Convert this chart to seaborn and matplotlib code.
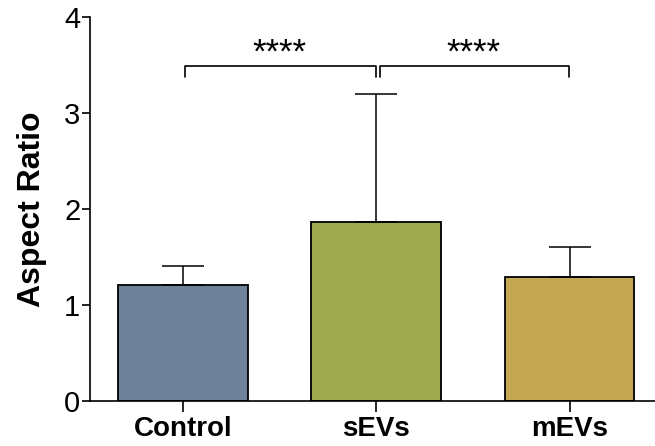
import matplotlib
matplotlib.use("Agg")
import matplotlib.pyplot as plt
import seaborn as sns
import pandas as pd

# ── Data ─────────────────────────────────────────────
groups   = ["Control", "sEVs", "mEVs"]
means    = [1.21, 1.865, 1.29]
sd_upper = [0.20, 1.335, 0.31]
colors   = ["#6E8299", "#9DAA50", "#C4A752"]

# significance brackets: (left group, right group, label)
comparisons = [(0, 1, "****"), (1, 2, "****")]

sns.set_style("ticks")
plt.rcParams["font.family"] = ["Liberation Sans", "DejaVu Sans"]
plt.rcParams["text.color"] = "black"
plt.rcParams["axes.labelcolor"] = "black"
plt.rcParams["xtick.color"] = "black"
plt.rcParams["ytick.color"] = "black"
plt.rcParams["axes.edgecolor"] = "black"

df = pd.DataFrame({"group": groups, "value": means})

fig = plt.figure(figsize=(6.55, 4.46), dpi=100)
ax = fig.add_axes([0.1374, 0.1009, 0.88, 0.861])

sns.barplot(data=df, x="group", y="value", hue="group", palette=colors,
            order=groups, width=0.67, edgecolor="black", linewidth=1.3,
            legend=False, errorbar=None, saturation=1, ax=ax)

# upward-only error bars
ax.errorbar(range(len(groups)), means, yerr=[[0] * len(groups), sd_upper],
            fmt="none", ecolor="black", elinewidth=1.1, capsize=15,
            capthick=1.1, zorder=1)

# significance brackets
bar_y, tick_drop = 3.49, 0.12
for i, (a, b, label) in enumerate(comparisons):
    x0 = a + (0.01 if i == 0 else 0.02)
    x1 = b - (0.0 if i == 0 else 0.005)
    ax.plot([x0, x0, x1, x1], [bar_y - tick_drop, bar_y, bar_y, bar_y - tick_drop],
            color="black", lw=1.2, clip_on=False)
    ax.text((a + b) / 2, bar_y + 0.03, label, ha="center", va="baseline",
            fontsize=25, color="black")

ax.set_ylim(0, 4)
ax.set_xlim(-0.48, 2.5)
ax.set_yticks([0, 1, 2, 3, 4])
ax.set_xlabel("")
ax.set_ylabel("Aspect Ratio", fontsize=23, fontweight="bold", labelpad=12)
ax.tick_params(axis="y", labelsize=21, length=6, width=1.2, pad=1)
ax.tick_params(axis="x", labelsize=20, length=8, width=1.2, pad=3)
for lab in ax.get_xticklabels():
    lab.set_fontweight("bold")
ax.spines[["top", "right"]].set_visible(False)
ax.spines["left"].set_linewidth(1.2)
ax.spines["bottom"].set_linewidth(1.2)

plt.savefig("out.png", dpi=100)
plt.close()
